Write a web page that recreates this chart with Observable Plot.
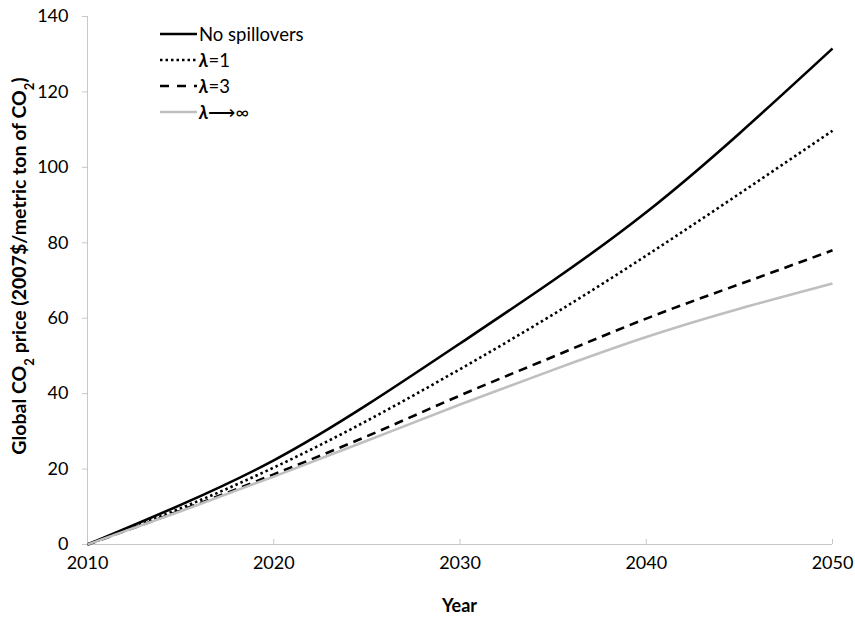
<!DOCTYPE html>
<html><head><meta charset="utf-8">
<script src="https://cdn.jsdelivr.net/npm/d3@7"></script>
<script src="https://cdn.jsdelivr.net/npm/@observablehq/plot@0.6"></script>
<style>
body{margin:0;background:#fff;font-family:Lato,"Open Sans",sans-serif;}
#wrap{position:relative;width:855px;height:627px;}
#legend{position:absolute;left:158px;top:21px;font-size:18.5px;color:#000;line-height:26px;}
#legend div{display:flex;align-items:center;height:26px;}
#legend svg{margin-right:1px;}
</style></head><body>
<div id="wrap"><div id="chart"></div>
<div id="legend"></div></div>
<script>
const years = [2010, 2015, 2020, 2025, 2030, 2035, 2040, 2045, 2050];
const noSpill = [0, 10.5, 22.3, 37, 53.3, 70, 88.1, 109, 131.5];
const lambda1 = [0, 9.6, 20.4, 32.8, 46.5, 61, 76.6, 93, 109.7];
const lambda3 = [0, 9, 18.6, 28.7, 39.5, 49.8, 59.9, 69, 78];
const lambdaInf = [0, 8.8, 18, 27.5, 37.1, 46.3, 55, 62.5, 69.2];
const seriesNames = ["No spillovers", "λ=1", "λ=3", "λ⟶∞"];
const xTicks = [2010, 2020, 2030, 2040, 2050];
const yTicks = [0, 20, 40, 60, 80, 100, 120, 140];

const styles = [
  {stroke: "#000", dash: null},
  {stroke: "#000", dash: "2.5,3"},
  {stroke: "#000", dash: "9,6"},
  {stroke: "#bfbfbf", dash: null}
];
const allSeries = [noSpill, lambda1, lambda3, lambdaInf];
const tables = allSeries.map(vals => years.map((y, i) => ({year: y, value: vals[i]})));

const chart = Plot.plot({
  width: 855, height: 627,
  marginLeft: 87, marginRight: 23, marginTop: 16, marginBottom: 83,
  style: {fontFamily: "Lato, 'Open Sans', sans-serif", fontSize: "18px", color: "#000", background: "#fff"},
  x: {domain: [2010, 2050], ticks: xTicks, tickFormat: "d", label: null},
  y: {domain: [0, 140], ticks: yTicks, label: null},
  marks: [
    Plot.ruleY([0], {stroke: "#c8c8c8", strokeWidth: 1}),
    Plot.ruleX([2010], {stroke: "#c8c8c8", strokeWidth: 1}),
    Plot.axisX({ticks: xTicks, tickFormat: "d", tickSize: -5, tickPadding: 17, stroke: "#c8c8c8", fill: "#000", label: null}),
    Plot.axisY({ticks: yTicks, tickSize: 5, tickPadding: 14, stroke: "#c8c8c8", fill: "#000", label: null}),
    ...tables.map((t, i) => Plot.line(t, {x: "year", y: "value", curve: "natural",
      stroke: styles[i].stroke, strokeWidth: 2.6, strokeDasharray: styles[i].dash, strokeLinecap: "butt"}))
  ]
});
document.getElementById("chart").appendChild(chart);

// axis titles
const svg = d3.select(chart);
svg.append("text").attr("x", (87 + 832) / 2).attr("y", 612).attr("text-anchor", "middle")
  .attr("font-weight", "bold").attr("font-size", 18).text("Year");
const yl = svg.append("text").attr("transform", "translate(26,266) rotate(-90)")
  .attr("text-anchor", "middle").attr("font-weight", "bold").attr("font-size", 19.5);
yl.append("tspan").text("Global CO");
yl.append("tspan").attr("baseline-shift", "sub").attr("font-size", 13).text("2");
yl.append("tspan").text(" price (2007$/metric ton of CO");
yl.append("tspan").attr("baseline-shift", "sub").attr("font-size", 13).text("2");
yl.append("tspan").text(")");

// legend
const leg = d3.select("#legend");
seriesNames.forEach((name, i) => {
  const row = leg.append("div");
  const s = row.append("svg").attr("width", 40).attr("height", 10);
  s.append("line").attr("x1", 2).attr("x2", 39).attr("y1", 5).attr("y2", 5)
    .attr("stroke", styles[i].stroke).attr("stroke-width", 2.6)
    .attr("stroke-dasharray", i === 1 ? "2.5,3" : (i === 2 ? "9,8" : null));
  const sp = row.append("span");
  if (name.startsWith("λ")) {
    sp.append("b").append("i").text("λ");
    sp.append("span").text(name.slice(1));
  } else sp.text(name);
});
</script></body></html>
